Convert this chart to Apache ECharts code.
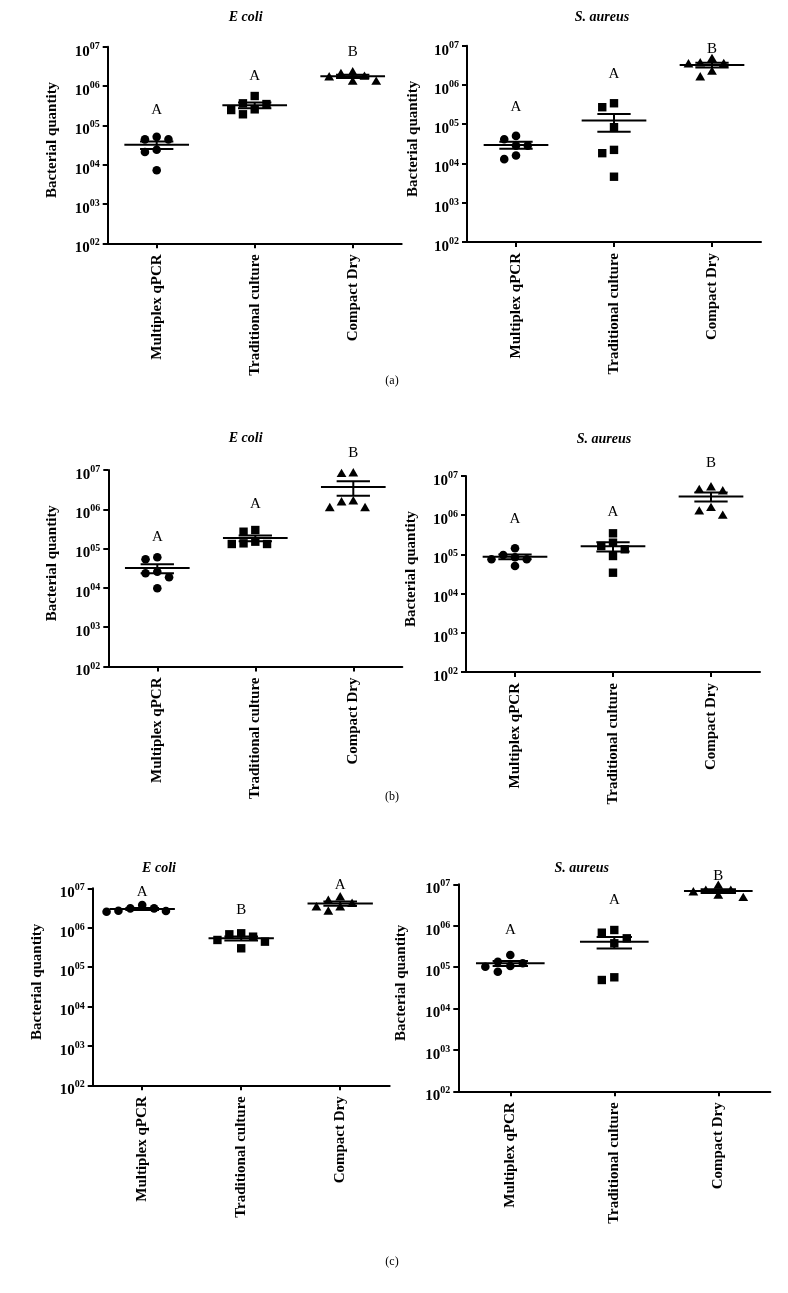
<!DOCTYPE html>
<html><head><meta charset="utf-8">
<script src="https://cdn.jsdelivr.net/npm/echarts@6/dist/echarts.min.js"></script>
<style>html,body{margin:0;padding:0;background:#fff}#c{width:788px;height:1293px}</style>
</head><body><div id="c"></div>
<script>
// ---------- data ----------
const categories = ['Multiplex qPCR', 'Traditional culture', 'Compact Dry'];
const yExponentLabels = ['02', '03', '04', '05', '06', '07'];
const panelTitles = ['E coli', 'S. aureus', 'E coli', 'S. aureus', 'E coli', 'S. aureus'];
const rowLabels = ['(a)', '(b)', '(c)'];

// (a)
const aEcoliQPCR = [5.1e4, 4.4e4, 4.4e4, 2.4e4, 2.1e4, 7.2e3];
const aEcoliTrad = [5.57e5, 3.63e5, 3.48e5, 2.55e5, 2.45e5, 1.91e5];
const aEcoliCD = [2.31e6, 2.10e6, 1.80e6, 1.73e6, 1.34e6, 1.34e6];
const aSaureusQPCR = [5.04e4, 4.15e4, 2.85e4, 2.85e4, 1.59e4, 1.29e4];
const aSaureusTrad = [3.42e5, 2.71e5, 8.4e4, 2.22e4, 1.83e4, 4.6e3];
const aSaureusCD = [4.78e6, 3.69e6, 3.56e6, 3.5e6, 2.27e6, 1.63e6];
// (b)
const bEcoliQPCR = [6.0e4, 5.35e4, 2.58e4, 2.35e4, 1.86e4, 9.8e3];
const bEcoliTrad = [2.97e5, 2.69e5, 1.50e5, 1.31e5, 1.31e5, 1.36e5];
const bEcoliCD = [8.53e6, 8.24e6, 1.56e6, 1.12e6, 1.12e6, 1.66e6];
const bSaureusQPCR = [9.66e4, 7.5e4, 1.43e5, 7.5e4, 8.43e4, 5.06e4];
const bSaureusTrad = [3.45e5, 1.35e5, 1.64e5, 1.99e5, 9.1e4, 3.41e4];
const bSaureusCD = [4.22e6, 4.58e6, 5.33e6, 1.59e6, 1.01e6, 1.30e6];
// (c)
const cEcoliQPCR = [3.1e6, 2.7e6, 2.65e6, 3.77e6, 2.55e6, 3.1e6];
const cEcoliTrad = [7.21e5, 6.8e5, 5.92e5, 4.88e5, 4.42e5, 3.0e5];
const cEcoliCD = [5.0e6, 3.41e6, 6.12e6, 2.66e6, 3.41e6, 4.2e6];
const cSaureusQPCR = [1.35e5, 1.06e5, 1.96e5, 7.74e4, 1.02e5, 1.24e5];
const cSaureusTrad = [7.87e5, 4.96e5, 6.78e5, 3.76e5, 4.88e4, 5.67e4];
const cSaureusCD = [7.28e6, 6.62e6, 4.85e6, 9.62e6, 5.52e6, 7.28e6];

// significance letters and the value level where each letter sits
const aEcoliLetters = ['A', 'A', 'B'];
const aEcoliLetterLevels = [2.45e5, 1.79e6, 7.46e6];
const aSaureusLetters = ['A', 'A', 'B'];
const aSaureusLetterLevels = [2.7e5, 1.9e6, 8.24e6];
const bEcoliLetters = ['A', 'A', 'B'];
const bEcoliLetterLevels = [1.94e5, 1.36e6, 2.66e7];
const bSaureusLetters = ['A', 'A', 'B'];
const bSaureusLetterLevels = [7.85e5, 1.23e6, 2.11e7];
const cEcoliLetters = ['A', 'B', 'A'];
const cEcoliLetterLevels = [8.2e6, 2.81e6, 1.21e7];
const cSaureusLetters = ['A', 'A', 'B'];
const cSaureusLetterLevels = [7.87e5, 4.18e6, 1.61e7];

// ---------- build ----------
const panels = [
  {groups: [aEcoliQPCR, aEcoliTrad, aEcoliCD], letters: aEcoliLetters, levels: aEcoliLetterLevels},
  {groups: [aSaureusQPCR, aSaureusTrad, aSaureusCD], letters: aSaureusLetters, levels: aSaureusLetterLevels},
  {groups: [bEcoliQPCR, bEcoliTrad, bEcoliCD], letters: bEcoliLetters, levels: bEcoliLetterLevels},
  {groups: [bSaureusQPCR, bSaureusTrad, bSaureusCD], letters: bSaureusLetters, levels: bSaureusLetterLevels},
  {groups: [cEcoliQPCR, cEcoliTrad, cEcoliCD], letters: cEcoliLetters, levels: cEcoliLetterLevels},
  {groups: [cSaureusQPCR, cSaureusTrad, cSaureusCD], letters: cSaureusLetters, levels: cSaureusLetterLevels}
];

const FONT = '"Liberation Serif", "Times New Roman", serif';
const layout = [
  {grid: {left: 107.7, top: 46.7, width: 294, height: 196.6}, nameGap: 48, title: [245.7, 17]},
  {grid: {left: 467, top: 45.7, width: 294, height: 196.3}, nameGap: 46.5, title: [602, 17.5]},
  {grid: {left: 108.3, top: 470, width: 294, height: 196.5}, nameGap: 49, title: [245.7, 438.5]},
  {grid: {left: 466, top: 476, width: 294, height: 196}, nameGap: 47, title: [604, 439.5]},
  {grid: {left: 92.7, top: 888.3, width: 297, height: 197}, nameGap: 48.5, title: [159, 868.5]},
  {grid: {left: 458.3, top: 884.3, width: 312, height: 207}, nameGap: 50, title: [581.7, 868.5]}
];
const rowLabelPos = [[392, 381], [392, 797], [392, 1262]];
const shapes = ['circle', 'rect', 'triangle'];

function marker(kind, x, y) {
  const st = {fill: '#000'};
  if (kind === 'circle') return {type: 'circle', shape: {cx: x, cy: y, r: 4.3}, style: st};
  if (kind === 'rect') return {type: 'rect', shape: {x: x - 4.2, y: y - 4.2, width: 8.4, height: 8.4}, style: st};
  return {type: 'polygon', shape: {points: [[x, y - 4.6], [x + 4.9, y + 3.8], [x - 4.9, y + 3.8]]}, style: st};
}
function seg(x1, y1, x2, y2) {
  return {type: 'line', shape: {x1, y1, x2, y2}, style: {stroke: '#000', lineWidth: 2}};
}

function makeRender(panel) {
  return function (params, api) {
    const ci = api.value(0);
    const vals = panel.groups[ci];
    const cx = api.coord([ci, vals[0]])[0];
    const band = Math.abs(api.coord([1, vals[0]])[0] - api.coord([0, vals[0]])[0]);
    const d = band * 0.12, minSep = 8.5;
    const ys = vals.map(v => api.coord([ci, v])[1]);
    const order = ys.map((y, i) => i).sort((a, b) => ys[a] - ys[b]);
    const slots = [0, -1, 1, -2, 2, -3, 3, -4, 4];
    const placed = [], xs = [];
    order.forEach(i => {
      for (const s of slots) {
        if (!placed.some(p => p.s === s && Math.abs(p.y - ys[i]) < minSep)) {
          placed.push({s, y: ys[i]}); xs[i] = cx + s * d; break;
        }
      }
    });
    const children = vals.map((v, i) => marker(shapes[ci], xs[i], ys[i]));
    const n = vals.length;
    const mean = vals.reduce((a, b) => a + b, 0) / n;
    const sd = Math.sqrt(vals.reduce((a, b) => a + (b - mean) * (b - mean), 0) / (n - 1));
    const sem = sd / Math.sqrt(n);
    const ym = api.coord([ci, mean])[1];
    const yHi = api.coord([ci, mean + sem])[1];
    const yLo = api.coord([ci, mean - sem])[1];
    const lh = band * 0.33, ch = band * 0.17;
    children.push(seg(cx - lh, ym, cx + lh, ym));
    children.push(seg(cx - ch, yHi, cx + ch, yHi));
    children.push(seg(cx - ch, yLo, cx + ch, yLo));
    children.push(seg(cx, yHi, cx, yLo));
    const yl = api.coord([ci, panel.levels[ci]])[1];
    children.push({type: 'text', x: cx, y: yl, style: {text: panel.letters[ci], fill: '#000',
      font: '15px ' + FONT, align: 'center', verticalAlign: 'middle', textAlign: 'center', textVerticalAlign: 'middle'}});
    return {type: 'group', children};
  };
}

const option = {
  animation: false,
  backgroundColor: '#fff',
  grid: layout.map(l => Object.assign({containLabel: false}, l.grid)),
  xAxis: panels.map((p, i) => ({
    type: 'category', gridIndex: i, data: categories, boundaryGap: true,
    axisLine: {show: true, lineStyle: {color: '#000', width: 2}},
    axisTick: {show: true, alignWithLabel: true, length: 5, lineStyle: {color: '#000', width: 2}},
    axisLabel: {rotate: 90, margin: 11, color: '#000', fontFamily: FONT, fontWeight: 'bold', fontSize: 15, interval: 0},
    splitLine: {show: false}
  })),
  yAxis: panels.map((p, i) => ({
    type: 'log', logBase: 10, gridIndex: i, min: 100, max: 1e7,
    name: 'Bacterial quantity', nameLocation: 'middle', nameGap: layout[i].nameGap, nameMoveOverlap: false,
    nameTextStyle: {color: '#000', fontFamily: FONT, fontWeight: 'bold', fontSize: 15, padding: [0, 0, 0, 10]},
    axisLine: {show: true, lineStyle: {color: '#000', width: 2}},
    axisTick: {show: true, length: 5, lineStyle: {color: '#000', width: 2}},
    minorTick: {show: false}, splitLine: {show: false},
    axisLabel: {
      margin: 8, padding: [10, 0, 0, 0],
      formatter: v => {
        const e = Math.round(Math.log10(v));
        return '{b|10}{s|' + yExponentLabels[e - 2] + '}';
      },
      rich: {
        b: {fontFamily: FONT, fontWeight: 'bold', fontSize: 15, color: '#000'},
        s: {fontFamily: FONT, fontWeight: 'bold', fontSize: 10, color: '#000', padding: [0, 0, 11, 0]}
      }
    }
  })),
  series: panels.map((p, i) => ({
    type: 'custom', xAxisIndex: i, yAxisIndex: i, clip: false,
    renderItem: makeRender(p),
    encode: {x: 0, y: 1},
    data: p.groups.map((g, ci) => [ci, g.reduce((a, b) => a + b, 0) / g.length])
  })),
  graphic: [
    ...panelTitles.map((t, i) => ({type: 'text', x: layout[i].title[0], y: layout[i].title[1],
      style: {text: t, fill: '#000', font: 'italic bold 14px ' + FONT, align: 'center', verticalAlign: 'middle', textAlign: 'center', textVerticalAlign: 'middle'}})),
    ...rowLabels.map((t, i) => ({type: 'text', x: rowLabelPos[i][0], y: rowLabelPos[i][1],
      style: {text: t, fill: '#000', font: '12px ' + FONT, align: 'center', verticalAlign: 'middle', textAlign: 'center', textVerticalAlign: 'middle'}}))
  ]
};

const chart = echarts.init(document.getElementById('c'), null, {renderer: 'canvas'});
chart.setOption(option);
</script>
</body></html>
